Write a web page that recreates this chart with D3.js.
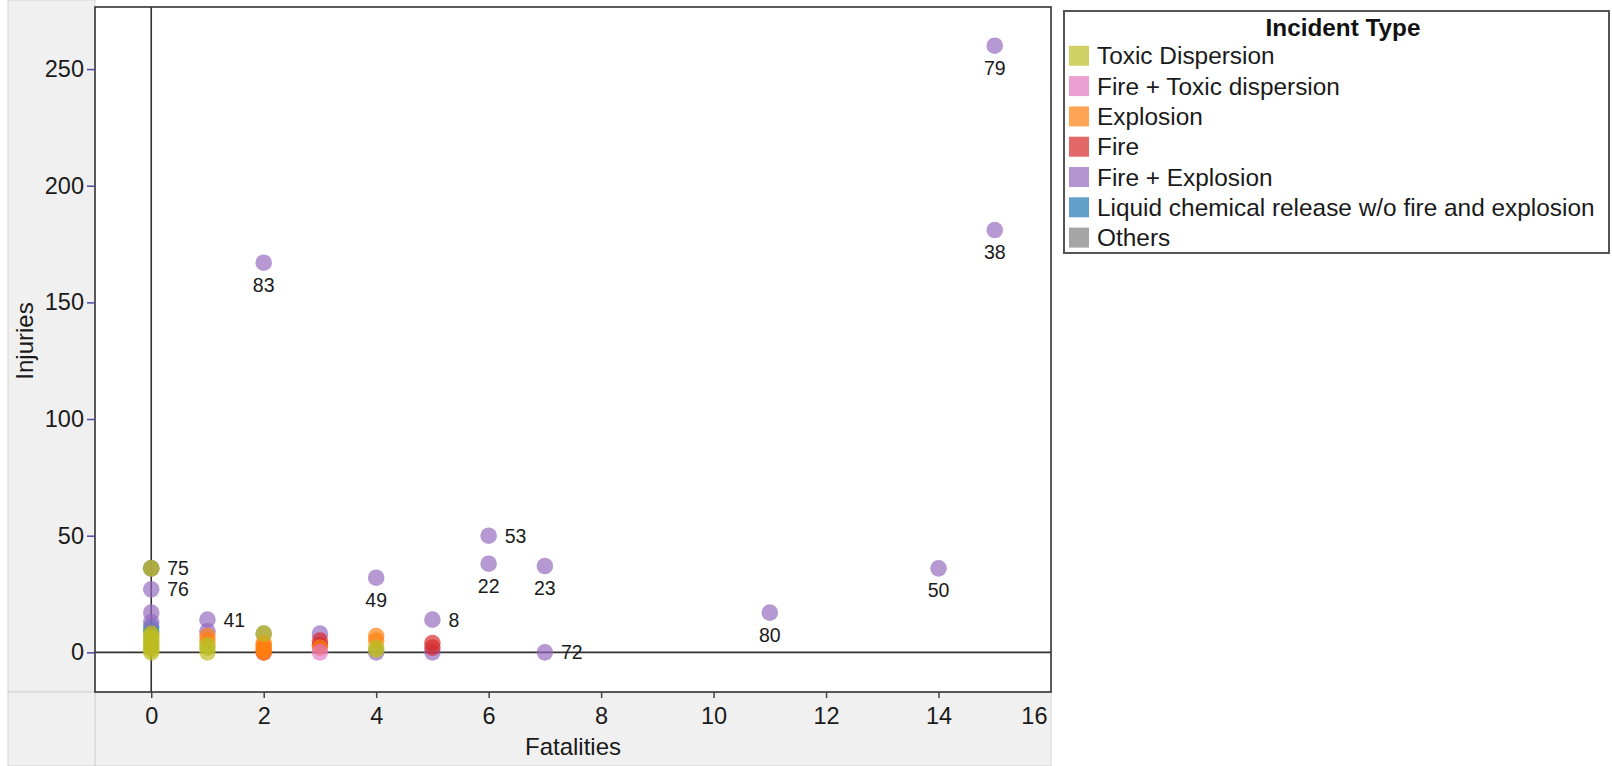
<!DOCTYPE html>
<html>
<head>
<meta charset="utf-8">
<script src="https://cdn.jsdelivr.net/npm/d3@7/dist/d3.min.js"></script>
<style>
  html, body { margin: 0; padding: 0; background: #ffffff; }
  svg { display: block; font-family: "Liberation Sans", Arial, sans-serif; }
</style>
</head>
<body>
<svg id="chart" width="1612" height="766"></svg>
<script>
// ---- data ----
const incidentTypes = [
  "Toxic Dispersion",
  "Fire + Toxic dispersion",
  "Explosion",
  "Fire",
  "Fire + Explosion",
  "Liquid chemical release w/o fire and explosion",
  "Others"
];
const typeColors = ["#bcbd22", "#e377c2", "#ff7f0e", "#d62728", "#9467bd", "#1f77b4", "#7f7f7f"];

// each point: fatalities, injuries, incident type index, label
const fatalities = [
  0, 0, 2,
  0, 0,
  0, 0, 0, 1, 1, 2, 3, 4, 4, 5, 5, 6, 6, 7, 7, 11, 14, 15, 15,
  2, 3, 3, 5, 5,
  1, 1, 2, 2, 2, 2, 2, 3, 4, 4,
  3,
  0, 0, 0, 0, 0, 0, 0, 0, 0, 0, 1, 1, 1, 2, 4, 4
];
const injuries = [
  36, 36, 8,
  9, 11,
  13, 17, 27, 9, 14, 167, 8, 0, 32, 0, 14, 38, 50, 37, 0, 17, 36, 181, 260,
  0, 3, 5, 2, 4,
  5, 7, 0, 1, 2, 3, 4, 2, 5, 7,
  0,
  0, 1, 2, 3, 4, 5, 6, 7, 8, 36, 0, 2, 3, 8, 1, 2
];
const typeIndex = [
  6, 6, 6,
  5, 5,
  4, 4, 4, 4, 4, 4, 4, 4, 4, 4, 4, 4, 4, 4, 4, 4, 4, 4, 4,
  3, 3, 3, 3, 3,
  2, 2, 2, 2, 2, 2, 2, 2, 2, 2,
  1,
  0, 0, 0, 0, 0, 0, 0, 0, 0, 0, 0, 0, 0, 0, 0, 0
];
const pointLabels = [
  "", "", "",
  "", "",
  "", "", "76", "", "41", "83", "", "", "49", "", "8", "22", "53", "23", "72", "80", "50", "38", "79",
  "", "", "", "", "",
  "", "", "", "", "", "", "", "", "", "",
  "",
  "", "", "", "", "", "", "", "", "", "75", "", "", "", "", "", ""
];
// label placement: "r" = right of point, "b" = below point
const labelSide = [
  "", "", "",
  "", "",
  "", "", "r", "", "r", "b", "", "", "b", "", "r", "b", "r", "b", "r", "b", "b", "b", "b",
  "", "", "", "", "",
  "", "", "", "", "", "", "", "", "", "",
  "",
  "", "", "", "", "", "", "", "", "", "r", "", "", "", "", "", ""
];
const xTicks = [0, 2, 4, 6, 8, 10, 12, 14, 16];
const yTicks = [0, 50, 100, 150, 200, 250];

const points = fatalities.map((f, i) => ({
  f: f, inj: injuries[i], t: typeIndex[i], label: pointLabels[i], side: labelSide[i]
}));

// ---- layout ----
const svg = d3.select("#chart");
const plot = { left: 95, right: 1051, top: 7, bottom: 692 };

const x = d3.scaleLinear().domain([-1, 16]).range([plot.left, plot.right]);
const y = d3.scaleLinear().domain([-17, 276.6]).range([plot.bottom, plot.top]);
const color = d3.scaleOrdinal().domain(d3.range(incidentTypes.length)).range(typeColors);

// gray axis cells
const cellFill = "#f0f0f0", cellStroke = "#d2d2d2";
svg.append("rect").attr("x", 8).attr("y", 0).attr("width", plot.left - 8).attr("height", plot.bottom)
  .attr("fill", cellFill).attr("stroke", cellStroke);
svg.append("rect").attr("x", plot.left).attr("y", plot.bottom).attr("width", plot.right - plot.left).attr("height", 766 - plot.bottom)
  .attr("fill", cellFill).attr("stroke", cellStroke);
svg.append("rect").attr("x", 8).attr("y", plot.bottom).attr("width", plot.left - 8).attr("height", 766 - plot.bottom)
  .attr("fill", cellFill).attr("stroke", cellStroke);

// plot area
svg.append("rect").attr("x", plot.left).attr("y", plot.top)
  .attr("width", plot.right - plot.left).attr("height", plot.bottom - plot.top)
  .attr("fill", "#ffffff");

// zero lines
svg.append("line").attr("x1", x(0)).attr("x2", x(0)).attr("y1", plot.top).attr("y2", plot.bottom)
  .attr("stroke", "#333").attr("stroke-width", 1.6);
svg.append("line").attr("x1", plot.left).attr("x2", plot.right).attr("y1", y(0)).attr("y2", y(0))
  .attr("stroke", "#333").attr("stroke-width", 1.6);

// points
const drawOrder = [6, 5, 4, 3, 2, 1, 0];
const sorted = points.slice().sort((a, b) => drawOrder.indexOf(a.t) - drawOrder.indexOf(b.t));
svg.append("g").selectAll("circle").data(sorted).join("circle")
  .attr("cx", d => x(d.f)).attr("cy", d => y(d.inj)).attr("r", 8.3)
  .attr("fill", d => color(d.t)).attr("fill-opacity", 0.68);

// point labels
svg.append("g").selectAll("text").data(points.filter(d => d.label)).join("text")
  .attr("x", d => d.side === "r" ? x(d.f) + 16 : x(d.f))
  .attr("y", d => d.side === "r" ? y(d.inj) + 7 : y(d.inj) + 29)
  .attr("text-anchor", d => d.side === "r" ? "start" : "middle")
  .attr("font-size", 19.5).attr("fill", "#1a1a1a")
  .text(d => d.label);

// frame
svg.append("rect").attr("x", plot.left).attr("y", plot.top)
  .attr("width", plot.right - plot.left).attr("height", plot.bottom - plot.top)
  .attr("fill", "none").attr("stroke", "#333").attr("stroke-width", 1.6);

// y axis
const yAxis = svg.append("g").attr("transform", `translate(${plot.left},0)`)
  .call(d3.axisLeft(y).tickValues(yTicks).tickSize(8).tickPadding(3));
yAxis.select(".domain").remove();
yAxis.selectAll(".tick line").attr("stroke", "#4a4aa0").attr("stroke-width", 1.5);
yAxis.selectAll(".tick text").attr("font-size", 23.5).attr("fill", "#1a1a1a")
  .attr("font-family", "Liberation Sans, Arial, sans-serif");

// x axis
const xAxis = svg.append("g").attr("transform", `translate(0,${plot.bottom})`)
  .call(d3.axisBottom(x).tickValues(xTicks).tickSize(6).tickPadding(9));
xAxis.select(".domain").remove();
xAxis.selectAll(".tick line").attr("stroke", "#444").attr("stroke-width", 1.5);
xAxis.selectAll(".tick text").attr("font-size", 23.5).attr("fill", "#1a1a1a")
  .attr("font-family", "Liberation Sans, Arial, sans-serif");
xAxis.selectAll(".tick").filter(d => d === 16).select("text")
  .attr("text-anchor", "end").attr("x", -4);
xAxis.selectAll(".tick").filter(d => d === 16).select("line").remove();

// axis titles
svg.append("text").attr("x", (plot.left + plot.right) / 2).attr("y", 755)
  .attr("text-anchor", "middle").attr("font-size", 24).attr("fill", "#1a1a1a").text("Fatalities");
svg.append("text").attr("transform", "translate(33,341) rotate(-90)")
  .attr("text-anchor", "middle").attr("font-size", 24).attr("fill", "#1a1a1a").text("Injuries");

// legend
const lg = svg.append("g");
lg.append("rect").attr("x", 1064).attr("y", 11).attr("width", 545).attr("height", 242)
  .attr("fill", "#fff").attr("stroke", "#555").attr("stroke-width", 2);
lg.append("text").attr("x", 1343).attr("y", 36).attr("text-anchor", "middle")
  .attr("font-size", 24.3).attr("font-weight", "bold").attr("fill", "#111").text("Incident Type");
const rows = lg.selectAll("g.row").data(incidentTypes).join("g")
  .attr("transform", (d, i) => `translate(1069,${55.8 + i * 30.3})`);
rows.append("rect").attr("x", 0).attr("y", -10).attr("width", 20).attr("height", 20)
  .attr("fill", (d, i) => color(i)).attr("fill-opacity", 0.7);
rows.append("text").attr("x", 28).attr("y", 8.5).attr("font-size", 24.4).attr("fill", "#1a1a1a").text(d => d);
</script>
</body>
</html>
